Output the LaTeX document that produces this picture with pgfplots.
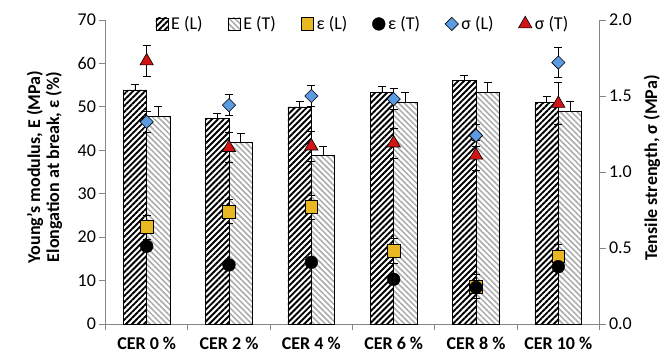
\documentclass[border=0pt]{standalone}
\usepackage{fontspec}
\setmainfont{Carlito}
\usepackage{pgfplots}
\usepackage{pgfplotstable}
\pgfplotsset{compat=1.18}
\usetikzlibrary{patterns.meta}

\definecolor{axisgray}{RGB}{134,134,134}
\definecolor{epsgold}{RGB}{232,184,36}
\definecolor{sigblue}{RGB}{91,155,225}
\definecolor{sigred}{RGB}{210,20,20}
\definecolor{hatchgray}{RGB}{170,170,170}

% Young's modulus (MPa), longitudinal and transverse
\pgfplotstableread{
x EL   ELerr ET   ETerr
0 53.9 1.2   47.8 2.2
1 47.4 1.2   41.8 2.2
2 50.0 1.3   38.8 2.2
3 53.3 1.3   51.0 2.3
4 56.0 1.2   53.3 2.4
5 51.0 1.4   48.9 2.3
}\moduli

% Elongation at break (%)
\pgfplotstableread{
x epsL epsLerr epsT epsTerr
0 22.3 2.8     17.9 1.0
1 25.9 2.8     13.6 1.0
2 26.9 2.8     14.2 1.0
3 16.8 2.9     10.3 1.0
4 8.6  2.8     8.4  1.0
5 15.6 2.8     13.2 1.0
}\elong

% Tensile strength (MPa)
\pgfplotstableread{
x sigL sigLerr sigT sigTerr
0 1.33 0.07    1.73 0.10
1 1.44 0.07    1.16 0.10
2 1.50 0.07    1.17 0.10
3 1.48 0.07    1.19 0.10
4 1.24 0.07    1.11 0.10
5 1.72 0.10    1.45 0.14
}\strength

\newcommand{\chartfont}{\fontsize{18bp}{21bp}\selectfont}

\pgfplotsset{
  common/.style={
    width=494bp, height=304bp, scale only axis,
    xmin=-0.5, xmax=5.5,
    tick align=outside,
    major tick length=6bp,
    tick style={draw=axisgray, line width=0.8pt},
    axis line style={draw=axisgray, line width=0.8pt},
    ticklabel style={font=\chartfont},
    /pgf/number format/assume math mode=true,
    clip=false,
  },
  error bars/errstyle/.style={
    error bar style={black, line width=0.8pt},
    error mark options={rotate=90, black, mark size=4bp, line width=0.8pt},
  },
  barleg/.style={legend image code/.code={\draw[##1] (0bp,-6bp) rectangle (12bp,6bp);}},
  markleg/.style={legend image code/.code={\draw[##1] plot coordinates {(6bp,0bp)};}},
}

\begin{document}
\begin{tikzpicture}
\useasboundingbox (-105.5bp,-31bp) rectangle (557.5bp,324bp);

\begin{axis}[common, name=ax,
  ymin=0, ymax=70, ytick={0,10,...,70},
  axis y line*=left, axis x line*=bottom,
  xtick={-0.5,0.5,1.5,2.5,3.5,4.5,5.5}, xticklabels={},
  extra x ticks={0,1,2,3,4,5},
  extra x tick labels={CER 0 \%,CER 2 \%,CER 4 \%,CER 6 \%,CER 8 \%,CER 10 \%},
  extra x tick style={major tick length=0pt,
    ticklabel style={font=\bfseries\chartfont, yshift=-10bp}},
  legend columns=6,
  legend style={at={(0.52,0.987)}, anchor=center, draw=none, fill=none,
    font=\chartfont, nodes={inner sep=1bp},
    /tikz/every odd column/.style={column sep=2bp},
    /tikz/every even column/.style={column sep=24bp}},
]
% modulus bars, placed side by side about each category
\addplot[ybar, bar width=0.285, bar shift=0, draw=black, line width=0.7pt,
  pattern={Lines[angle=45,distance=4.2bp,line width=1.9bp]}, pattern color=black,
  barleg, error bars/.cd, y dir=plus, y explicit, errstyle]
  table[x expr=\thisrow{x}-0.1425, y=EL, y error=ELerr]{\moduli};
\addlegendentry{E (L)}
\addplot[ybar, bar width=0.285, bar shift=0, draw=black, line width=0.7pt,
  pattern={Lines[angle=-45,distance=4bp,line width=1.5bp]}, pattern color=hatchgray,
  barleg, error bars/.cd, y dir=plus, y explicit, errstyle]
  table[x expr=\thisrow{x}+0.1425, y=ET, y error=ETerr]{\moduli};
\addlegendentry{E (T)}
% elongation markers
\addplot[only marks, mark=square*, mark size=6.4bp,
  mark options={fill=epsgold, draw=black, line width=0.6pt}, markleg,
  error bars/.cd, y dir=both, y explicit, errstyle]
  table[x=x, y=epsL, y error=epsLerr]{\elong};
\addlegendentry{ε (L)}
\addplot[only marks, mark=*, mark size=6.4bp,
  mark options={fill=black, draw=black}, markleg,
  error bars/.cd, y dir=both, y explicit, errstyle]
  table[x=x, y=epsT, y error=epsTerr]{\elong};
\addlegendentry{ε (T)}
% legend entries for the strength markers of the second axis
\addlegendimage{only marks, mark=square*, mark size=4.7bp,
  mark options={rotate=45, fill=sigblue, draw=black, line width=0.6pt}, markleg}
\addlegendentry{σ (L)}
\addlegendimage{only marks, mark=triangle*, mark size=7.7bp,
  mark options={fill=sigred, draw=black, line width=0.6pt}, markleg}
\addlegendentry{σ (T)}
\end{axis}

\begin{axis}[common,
  ymin=0, ymax=2, ytick={0,0.5,1,1.5,2},
  axis y line*=right, axis x line=none,
  yticklabel style={/pgf/number format/.cd, fixed, fixed zerofill, precision=1},
]
\addplot[only marks, mark=square*, mark size=4.7bp,
  mark options={rotate=45, fill=sigblue, draw=black, line width=0.6pt},
  error bars/.cd, y dir=both, y explicit, errstyle]
  table[x=x, y=sigL, y error=sigLerr]{\strength};
\addplot[only marks, mark=triangle*, mark size=7.7bp,
  mark options={fill=sigred, draw=black, line width=0.6pt},
  error bars/.cd, y dir=both, y explicit, errstyle]
  table[x=x, y=sigT, y error=sigTerr]{\strength};
\end{axis}

\node[rotate=90, align=center, font=\bfseries\fontsize{18bp}{19bp}\selectfont]
  at ([xshift=-61bp, yshift=5bp]ax.west)
  {Young's modulus, E (MPa)\\Elongation at break, ε (\%)};
\node[rotate=90, font=\bfseries\chartfont]
  at ([xshift=52.5bp, yshift=4bp]ax.east) {Tensile strength, σ (MPa)};
\end{tikzpicture}
\end{document}
